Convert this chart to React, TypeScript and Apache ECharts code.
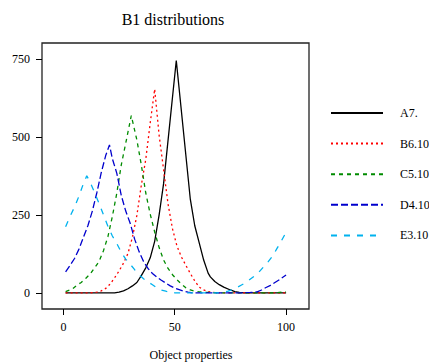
import React, { useEffect, useRef } from "react";
import * as echarts from "echarts";

const seriesNames = ["A7.", "B6.10", "C5.10", "D4.10", "E3.10"];

const xA = [1, 23, 25, 27, 29, 31, 33, 35, 37, 39, 41, 43, 44, 45, 50.7, 57, 59, 61, 63, 65, 66, 68, 70, 72, 75, 77, 79, 81, 100];
const yA = [0, 0, 2, 6, 13, 22, 33, 55, 80, 112, 165, 250, 300, 350, 745, 300, 215, 160, 105, 63, 51, 36, 26, 18, 9, 4, 1, 0, 0];

const xB = [1, 12, 14, 15, 17, 19, 21, 23, 25, 27, 29, 31, 33, 35, 37, 39, 41, 43, 45, 47, 49, 51, 53, 55, 57, 59, 61, 63, 65, 67, 69, 100];
const yB = [0, 0, 1, 2, 6, 14, 28, 48, 70, 95, 126, 178, 248, 345, 428, 545, 653, 505, 395, 285, 205, 150, 115, 88, 62, 38, 18, 9, 4, 1, 0, 0];

const xC = [1, 4, 6, 8, 10, 12, 14, 16, 18, 20, 22, 24, 26, 28, 30.5, 33, 35, 37, 39, 41, 43, 45, 47, 49, 51, 53, 55, 57, 59, 61, 65, 70, 95, 100];
const yC = [4, 12, 24, 33, 46, 60, 80, 100, 135, 180, 245, 320, 410, 480, 568, 490, 410, 320, 252, 195, 145, 105, 78, 58, 42, 28, 16, 9, 5, 3, 1, 0, 0, 3];

const xD = [1, 3, 5, 7, 9, 11, 13, 15, 17, 19, 20.7, 22, 24, 26, 28, 30, 32, 34, 36, 38, 40, 42, 44, 46, 48, 50, 52, 54, 56, 58, 80, 84, 87, 89, 91, 93, 95, 97, 100];
const yD = [67, 88, 110, 140, 178, 215, 262, 320, 385, 440, 474, 430, 383, 312, 262, 223, 172, 132, 100, 78, 62, 50, 40, 31, 22, 15, 10, 5, 2, 0, 0, 1, 3, 9, 17, 24, 33, 42, 57];

const xE = [1, 3, 5, 7, 9, 10.5, 12, 14, 16, 18, 20, 22, 24, 26, 28, 30, 32, 34, 36, 38, 40, 42, 44, 46, 48, 50, 70, 72, 74, 76, 78, 80, 82, 84, 86, 88, 90, 92, 94, 96, 98, 100];
const yE = [212, 245, 275, 310, 350, 375, 355, 322, 287, 250, 213, 182, 158, 130, 108, 92, 74, 58, 45, 35, 26, 16, 9, 5, 2, 0, 0, 2, 5, 10, 17, 25, 33, 44, 55, 68, 84, 100, 118, 143, 168, 194];

const xTicks = [0, 50, 100];
const yTicks = [0, 250, 500, 750];

const FONT = "Liberation Serif";

const zip = (xs: number[], ys: number[]) => xs.map((x, i) => [x, ys[i]]);

export default function App() {
  const ref = useRef<HTMLDivElement>(null);
  useEffect(() => {
    if (!ref.current) return;
    const chart = echarts.init(ref.current, undefined, { renderer: "svg" });
    const styles = [
      { color: "#000000", type: "solid" as any },
      { color: "#ff0000", type: [2, 3] as any },
      { color: "#008b00", type: [4, 4] as any },
      { color: "#0000cd", type: [7, 3] as any },
      { color: "#00b2ee", type: [6, 7] as any },
    ];
    const datasets = [zip(xA, yA), zip(xB, yB), zip(xC, yC), zip(xD, yD), zip(xE, yE)];
    chart.setOption({
      animation: false,
      textStyle: { fontFamily: FONT },
      grid: {
        left: 42,
        right: 120,
        top: 43,
        bottom: 53,
        show: true,
        borderColor: "#222",
        borderWidth: 1.3,
        containLabel: false,
      },
      xAxis: {
        type: "value",
        min: -9.6,
        max: 110.3,
        axisLine: { show: false, onZero: false },
        axisTick: {
          show: true,
          length: 6,
          lineStyle: { color: "#000", width: 1 },
          customValues: xTicks,
        },
        axisLabel: {
          customValues: xTicks,
          margin: 12,
          color: "#000",
          fontFamily: FONT,
          fontSize: 12,
        },
        splitLine: { show: false },
      },
      yAxis: {
        type: "value",
        min: -52,
        max: 801,
        axisLine: { show: false, onZero: false },
        axisTick: {
          show: true,
          length: 6,
          lineStyle: { color: "#000", width: 1 },
          customValues: yTicks,
        },
        axisLabel: {
          customValues: yTicks,
          margin: 12,
          color: "#000",
          fontFamily: FONT,
          fontSize: 12,
        },
        splitLine: { show: false },
      },
      legend: {
        orient: "vertical",
        left: 330,
        top: 107,
        itemWidth: 52,
        itemHeight: 14,
        itemGap: 18.6,
        padding: 0,
        data: seriesNames,
        itemStyle: { opacity: 0 },
        textStyle: {
          color: "#000",
          fontFamily: FONT,
          fontSize: 12,
          padding: [0, 0, 0, 12],
        },
      },
      graphic: [
        {
          type: "text",
          x: 173,
          y: 19,
          style: {
            text: "B1 distributions",
            fontFamily: FONT,
            fontSize: 16,
            fill: "#000",
            textAlign: "center",
            textVerticalAlign: "middle",
          },
        },
        {
          type: "text",
          x: 191,
          y: 355,
          style: {
            text: "Object properties",
            fontFamily: FONT,
            fontSize: 12,
            fill: "#000",
            textAlign: "center",
            textVerticalAlign: "middle",
          },
        },
      ],
      series: seriesNames.map((name, i) => ({
        name,
        type: "line",
        data: datasets[i],
        showSymbol: false,
        symbol: "none",
        smooth: false,
        color: styles[i].color,
        lineStyle: { color: styles[i].color, width: 1.3, type: styles[i].type },
        emphasis: { disabled: true },
      })),
    });
    return () => chart.dispose();
  }, []);
  return (
    <div
      ref={ref}
      style={{ position: "fixed", left: 0, top: 0, width: 429, height: 362, background: "#fff" }}
    />
  );
}
